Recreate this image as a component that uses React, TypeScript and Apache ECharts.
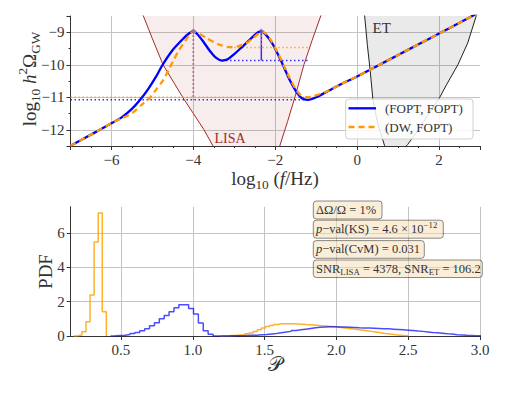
import React, { useEffect, useRef } from 'react';
import * as echarts from 'echarts';

// ---------- top panel data (log10 f, log10 h^2 Omega) ----------
const blueX = [-7.0, -6.5, -6.0, -5.75, -5.5, -5.3, -5.1, -4.9, -4.75, -4.5, -4.25, -4.1, -4.0, -3.9, -3.75, -3.6, -3.45, -3.3, -3.15, -3.0, -2.85, -2.7, -2.55, -2.42, -2.34, -2.25, -2.15, -2.05, -1.85, -1.65, -1.48, -1.35, -1.2, -1.0, -0.7, -0.4, 0.0, 0.5, 1.0, 1.5, 2.0, 2.5, 3.0];
const blueY = [-12.49, -12.15, -11.8, -11.62, -11.36, -11.08, -10.74, -10.34, -10.0, -9.54, -9.2, -9.03, -8.97, -9.06, -9.3, -9.57, -9.78, -9.87, -9.82, -9.67, -9.5, -9.32, -9.14, -9.0, -8.97, -9.05, -9.2, -9.39, -9.9, -10.46, -10.84, -11.03, -11.08, -11.0, -10.8, -10.6, -10.36, -10.03, -9.7, -9.37, -9.04, -8.71, -8.37];
const orangeX = [-7.0, -6.5, -6.0, -5.75, -5.5, -5.25, -5.05, -4.9, -4.75, -4.6, -4.5, -4.35, -4.2, -4.0, -3.85, -3.68, -3.5, -3.35, -3.1, -2.9, -2.78, -2.65, -2.54, -2.42, -2.34, -2.22, -2.1, -1.95, -1.8, -1.65, -1.5, -1.38, -1.25, -1.1, -0.9, -0.7, -0.4, 0.0, 0.5, 1.0, 1.5, 2.0, 2.5, 3.0];
const orangeY = [-12.49, -12.15, -11.8, -11.65, -11.49, -11.22, -11.0, -10.75, -10.5, -10.15, -9.9, -9.55, -9.27, -8.97, -9.05, -9.18, -9.3, -9.39, -9.46, -9.43, -9.38, -9.29, -9.18, -9.05, -8.97, -9.06, -9.26, -9.6, -10.0, -10.4, -10.75, -10.93, -11.0, -10.98, -10.9, -10.8, -10.6, -10.36, -10.03, -9.7, -9.37, -9.04, -8.71, -8.37];
const lisaX = [-5.35, -5.22, -5.0, -4.74, -4.5, -4.26, -4.0, -3.74, -3.52, -3.2, -2.8, -2.4, -2.1, -1.89, -1.7, -1.52, -1.3, -1.1, -0.89, -0.75];
const lisaY = [-8.1, -8.5, -9.2, -10.0, -10.5, -11.0, -11.5, -12.0, -12.5, -13.0, -13.3, -13.2, -12.9, -12.5, -11.75, -11.0, -10.0, -9.25, -8.5, -8.0];
const etX = [0.15, 0.183, 0.25, 0.32, 0.385, 0.5, 0.67, 0.8, 1.0, 1.23, 1.5, 1.7, 2.01, 2.18, 2.46, 2.7, 2.907, 3.0];
const etY = [-8.0, -8.5, -9.4, -10.2, -11.08, -11.8, -12.49, -12.7, -12.75, -12.46, -12.0, -11.6, -11.02, -10.62, -10.0, -9.33, -8.5, -8.1];
const peakX = [-4.0, -2.34];
const peakY = [-8.97, -8.97];
const blueDip = [-3.3, -9.87];
const blueMin = [-1.2, -11.08];
const orangeDip = [-3.1, -9.47];
const orangeMin = [-1.15, -11.0];
const freqMin = -7;

// ---------- bottom panel histograms ----------
const orangeBinWidth = 0.0284;
const orangeNarrowStart = 0.171;
const orangeNarrow = [0.02, 0.06, 0.25, 0.83, 2.39, 5.49, 7.18, 1.42];
const orangeWideStart = 1.1934;
const orangeWide = [0.01, 0.02, 0.03, 0.04, 0.06, 0.08, 0.13, 0.18, 0.26, 0.36, 0.46, 0.55, 0.62, 0.67, 0.71, 0.72, 0.72, 0.71, 0.70, 0.69, 0.67, 0.66, 0.64, 0.62, 0.60, 0.58, 0.56, 0.54, 0.51, 0.48, 0.45, 0.42, 0.39, 0.36, 0.33, 0.30, 0.27, 0.24, 0.20, 0.16, 0.13, 0.10, 0.07, 0.05, 0.03, 0.01];
const blueBinWidth = 0.034;
const blueNarrowStart = 0.427;
const blueNarrow = [0.01, 0.03, 0.05, 0.09, 0.14, 0.2, 0.3, 0.43, 0.6, 0.78, 1.0, 1.2, 1.42, 1.65, 1.83, 1.83, 1.61, 1.29, 0.76, 0.31, 0.10];
const blueWideStart = 1.141;
const blueWide = [0, 0, 0, 0.01, 0.01, 0.02, 0.03, 0.04, 0.05, 0.07, 0.09, 0.12, 0.15, 0.19, 0.23, 0.27, 0.32, 0.36, 0.40, 0.44, 0.48, 0.51, 0.53, 0.54, 0.54, 0.53, 0.52, 0.51, 0.50, 0.48, 0.47, 0.46, 0.45, 0.44, 0.43, 0.42, 0.40, 0.38, 0.36, 0.34, 0.32, 0.29, 0.27, 0.24, 0.21, 0.19, 0.16, 0.13, 0.11, 0.08, 0.06, 0.04, 0.03, 0.02, 0.01];

const FONT = "Liberation Serif";
const TXT = '#333333';
const BLUE = '#0000ff';
const ORANGE = '#ff9900';

const zip = (xs: number[], ys: number[]) => xs.map((x, i) => [x, ys[i]]);
function steps(start: number, w: number, vals: number[]) {
  const pts: number[][] = [[start, 0]];
  vals.forEach((v, i) => {
    pts.push([start + i * w, v]);
    pts.push([start + (i + 1) * w, v]);
  });
  pts.push([start + vals.length * w, 0]);
  return pts;
}
const fmtMinus = (v: number) => String(v).replace('-', '\u2212');

function rich(size: number, color: string = TXT) {
  return {
    i: { fontFamily: FONT, fontSize: size, fontStyle: 'italic', fill: color, lineHeight: size * 1.4 },
    sb: { fontFamily: FONT, fontSize: size * 0.7, fill: color, verticalAlign: 'bottom', lineHeight: size * 0.85 },
    sp: { fontFamily: FONT, fontSize: size * 0.7, fill: color, verticalAlign: 'top', lineHeight: size * 0.85 },
  };
}
function label(text: string, x: number, y: number, size: number, opts: any = {}) {
  const color = opts.color || TXT;
  return {
    type: 'text', x, y, rotation: opts.rotation || 0, z: 100,
    style: {
      text, rich: rich(size, color), fontFamily: FONT, fontSize: size, fill: color,
      align: opts.align || 'center', verticalAlign: 'middle', lineHeight: opts.lh || size * 1.4,
    },
  };
}

const axisCommon = {
  axisLine: { show: true, onZero: false, lineStyle: { color: '#333', width: 1 } },
  axisTick: { show: true, length: 4, lineStyle: { color: '#333' } },
  splitLine: { show: true, showMinLine: false, showMaxLine: false, lineStyle: { color: '#c4c4c4', width: 1 } },
};
const labelCommon = { fontFamily: FONT, fontSize: 15, color: TXT, showMinLabel: false, showMaxLabel: false };

function dotted(color: string, pts: number[][], z = 3, solid = false) {
  return {
    type: 'line', xAxisIndex: 0, yAxisIndex: 0, data: pts, showSymbol: false, silent: true, z,
    lineStyle: { color, width: 1.5, type: solid ? 'solid' : [1.5, 2.5], opacity: 0.8 },
  };
}

export default function App() {
  const ref = useRef<HTMLDivElement>(null);
  useEffect(() => {
    if (!ref.current) return;
    const chart = echarts.init(ref.current, null, { renderer: 'svg' });
    const option: any = {
      animation: false,
      backgroundColor: '#ffffff',
      textStyle: { fontFamily: FONT },
      grid: [
        { left: 70.5, top: 16, width: 409.5, height: 130 },
        { left: 70.7, top: 206.7, width: 409.3, height: 129.3 },
      ],
      xAxis: [
        {
          type: 'value', gridIndex: 0, min: -7, max: 3, splitNumber: 5, ...axisCommon,
          minorTick: { show: true, splitNumber: 4, length: 2, lineStyle: { color: '#333' } },
          axisLabel: { ...labelCommon, margin: 6, formatter: fmtMinus },
        },
        {
          type: 'value', gridIndex: 1, min: 0.15, max: 3.0, splitNumber: 6, ...axisCommon,
          splitLine: { ...axisCommon.splitLine, showMaxLine: true },
          axisLabel: { ...labelCommon, showMaxLabel: true, margin: 6, formatter: (v: number) => v.toFixed(1) },
        },
      ],
      yAxis: [
        {
          type: 'value', gridIndex: 0, min: -12.5, max: -8.5, splitNumber: 4, ...axisCommon,
          minorTick: { show: true, splitNumber: 2, length: 2, lineStyle: { color: '#333' } },
          axisLabel: { ...labelCommon, margin: 6, formatter: fmtMinus },
        },
        {
          type: 'value', gridIndex: 1, min: 0, max: 7.55, splitNumber: 4, ...axisCommon,
          axisLabel: { ...labelCommon, showMinLabel: true, margin: 6, formatter: (v: number) => String(v) },
        },
      ],
      series: [
        {
          type: 'line', xAxisIndex: 0, yAxisIndex: 0, data: zip(lisaX, lisaY), showSymbol: false, silent: true, z: 1,
          lineStyle: { color: '#a52a2a', width: 1 }, areaStyle: { origin: 'end', color: 'rgba(165,42,42,0.12)' },
        },
        {
          type: 'line', xAxisIndex: 0, yAxisIndex: 0, data: zip(etX, etY), showSymbol: false, silent: true, z: 1,
          lineStyle: { color: '#222', width: 1 }, areaStyle: { origin: 'end', color: 'rgba(0,0,0,0.12)' },
        },
        dotted(ORANGE, [[freqMin, orangeMin[1]], [orangeMin[0], orangeMin[1]]]),
        dotted(BLUE, [[freqMin, blueMin[1]], [blueMin[0], blueMin[1]]]),
        dotted(ORANGE, [[orangeDip[0], orangeDip[1]], [orangeMin[0], orangeDip[1]]]),
        dotted(BLUE, [[blueDip[0], blueDip[1]], [blueMin[0], blueDip[1]]]),
        dotted(BLUE, [[peakX[0], peakY[0]], [peakX[0], blueMin[1]]]),
        dotted(ORANGE, [[peakX[0], peakY[0]], [peakX[0], orangeMin[1]]]),
        dotted(BLUE, [[peakX[1], peakY[1]], [peakX[1], blueDip[1]]], 3, true),
        dotted(ORANGE, [[peakX[1], peakY[1]], [peakX[1], orangeDip[1]]]),
        {
          type: 'line', xAxisIndex: 0, yAxisIndex: 0, data: zip(blueX, blueY), showSymbol: false, silent: true, z: 4,
          smooth: 0.25, lineStyle: { color: BLUE, width: 2.3 },
        },
        {
          type: 'line', xAxisIndex: 0, yAxisIndex: 0, data: zip(orangeX, orangeY), showSymbol: false, silent: true, z: 5,
          smooth: 0.25, lineStyle: { color: ORANGE, width: 2.3, type: [6, 4] },
        },
        {
          type: 'scatter', xAxisIndex: 0, yAxisIndex: 0, data: zip(peakX, peakY), symbol: 'diamond', symbolSize: 6, z: 6,
          itemStyle: { color: 'rgba(120,90,190,0.75)' }, silent: true,
        },
        // histograms
        {
          type: 'line', xAxisIndex: 1, yAxisIndex: 1, data: steps(orangeNarrowStart, orangeBinWidth, orangeNarrow), showSymbol: false, silent: true,
          lineStyle: { color: '#ffa500', width: 1.5, opacity: 0.85 },
        },
        {
          type: 'line', xAxisIndex: 1, yAxisIndex: 1, data: steps(orangeWideStart, orangeBinWidth, orangeWide), showSymbol: false, silent: true,
          lineStyle: { color: '#ffa500', width: 1.5, opacity: 0.85 },
        },
        {
          type: 'line', xAxisIndex: 1, yAxisIndex: 1, data: steps(blueNarrowStart, blueBinWidth, blueNarrow), showSymbol: false, silent: true,
          lineStyle: { color: BLUE, width: 1.5, opacity: 0.7 },
        },
        {
          type: 'line', xAxisIndex: 1, yAxisIndex: 1, data: steps(blueWideStart, blueBinWidth, blueWide), showSymbol: false, silent: true,
          lineStyle: { color: BLUE, width: 1.5, opacity: 0.7 },
        },
      ],
      graphic: [
        label('log{sb|10} {i|h}{sp|2}\u03a9{sb|GW}', 29, 79, 19, { rotation: Math.PI / 2 }),
        label('log{sb|10} ({i|f}/Hz)', 275, 178, 19),
        label('PDF', 45.5, 271.5, 19, { rotation: Math.PI / 2, lh: 20 }),
        label('\ud835\udcab', 275, 364, 20, { lh: 18 }),
        label('LISA', 230, 138, 14, { color: '#a52a2a', lh: 15 }),
        label('ET', 381.7, 27.5, 15, { lh: 16 }),
        // legend
        { type: 'rect', z: 99, shape: { x: 345.7, y: 99, width: 127.3, height: 40, r: 3 }, style: { fill: 'rgba(255,255,255,0.85)', stroke: '#d0d0d0', lineWidth: 1 } },
        { type: 'line', z: 100, shape: { x1: 348.5, y1: 108.3, x2: 376, y2: 108.3 }, style: { stroke: BLUE, lineWidth: 2.3 } },
        { type: 'line', z: 100, shape: { x1: 348.5, y1: 127, x2: 376, y2: 127 }, style: { stroke: ORANGE, lineWidth: 2.3, lineDash: [6, 4] } },
        label('(FOPT, FOPT)', 385, 108.3, 13, { align: 'left', lh: 15 }),
        label('(DW, FOPT)', 385, 127, 13, { align: 'left', lh: 15 }),
        // annotation boxes
        { type: 'rect', z: 99, shape: { x: 313.3, y: 201, width: 68.7, height: 18, r: 3 }, style: { fill: 'rgba(245,222,179,0.5)', stroke: 'rgba(0,0,0,0.45)', lineWidth: 1 } },
        { type: 'rect', z: 99, shape: { x: 313.3, y: 220.2, width: 130, height: 18, r: 3 }, style: { fill: 'rgba(245,222,179,0.5)', stroke: 'rgba(0,0,0,0.45)', lineWidth: 1 } },
        { type: 'rect', z: 99, shape: { x: 313.3, y: 240.6, width: 111, height: 17.7, r: 3 }, style: { fill: 'rgba(245,222,179,0.5)', stroke: 'rgba(0,0,0,0.45)', lineWidth: 1 } },
        { type: 'rect', z: 99, shape: { x: 313.3, y: 260, width: 169, height: 17.5, r: 3 }, style: { fill: 'rgba(245,222,179,0.5)', stroke: 'rgba(0,0,0,0.45)', lineWidth: 1 } },
        label('\u0394\u03a9/\u03a9 = 1%', 316, 210, 12.5, { align: 'left', lh: 14 }),
        label('{i|p}\u2212val(KS) = 4.6 \u00d7 10{sp|\u221212}', 316, 229.2, 12.5, { align: 'left', lh: 16 }),
        label('{i|p}\u2212val(CvM) = 0.031', 316, 249.4, 12.5, { align: 'left', lh: 14 }),
        label('SNR{sb|LISA} = 4378, SNR{sb|ET} = 106.2', 316, 268.7, 12.5, { align: 'left', lh: 16 }),
      ],
    };
    chart.setOption(option);
    return () => chart.dispose();
  }, []);
  return <div ref={ref} style={{ position: 'fixed', left: 0, top: 0, width: 506, height: 393, background: '#fff' }} />;
}
